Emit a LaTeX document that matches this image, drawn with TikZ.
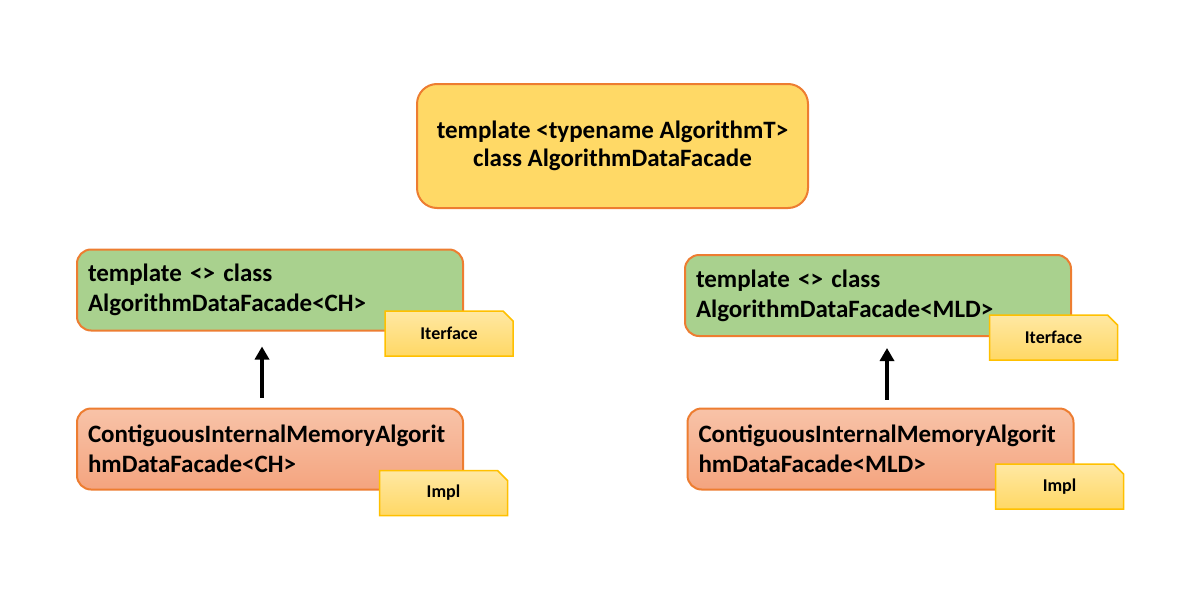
\documentclass[tikz,border=0pt]{standalone}
\usepackage{fontspec}
\setmainfont{Carlito}
\usetikzlibrary{shapes.misc,arrows.meta}
\definecolor{bord}{HTML}{ED7D31}
\definecolor{topfill}{HTML}{FFD966}
\definecolor{greenfill}{HTML}{A9D18E}
\definecolor{redtop}{HTML}{F8C3A8}
\definecolor{redbot}{HTML}{F4A47F}
\definecolor{tagtop}{HTML}{FFE8A3}
\definecolor{tagbot}{HTML}{FFD865}
\definecolor{tagbord}{HTML}{FFC000}
\tikzset{
  box/.style={draw=bord, line width=2pt, rounded corners=14pt, minimum width=386pt,
    minimum height=81pt, inner xsep=11pt, text width=364pt, align=left,
    font=\bfseries\fontsize{25}{30}\selectfont},
  topbox/.style={draw=bord, fill=topfill, line width=2pt, rounded corners=20pt,
    minimum width=391pt, minimum height=124pt, align=center,
    font=\bfseries\fontsize{25}{28}\selectfont},
  greenbox/.style={box, fill=greenfill},
  redbox/.style={box, top color=redtop, bottom color=redbot},
  tag/.style={chamfered rectangle, chamfered rectangle corners=north east,
    chamfered rectangle xsep=5pt, chamfered rectangle ysep=5pt,
    draw=tagbord, line width=1.5pt, top color=tagtop, bottom color=tagbot,
    minimum width=128pt, minimum height=45pt, inner sep=0pt,
    font=\bfseries\fontsize{18}{20}\selectfont},
  arr/.style={line width=4pt, -{Triangle[width=14pt,length=13pt]}}
}
\begin{document}
\begin{tikzpicture}[x=1pt,y=-1pt]
\useasboundingbox (0,0) rectangle (1197,597);
\node[topbox] (top) at (612.5,146) {template <typename AlgorithmT>\\class AlgorithmDataFacade};
\node[greenbox] (greenL) at (270,290) {template <> class\\AlgorithmDataFacade<CH>};
\node[redbox] (redL) at (270,449) {ContiguousInternalMemoryAlgorit\\hmDataFacade<CH>};
\node[greenbox] (greenR) at (878,295.5) {template <> class\\AlgorithmDataFacade<MLD>};
\node[redbox] (redR) at (880.5,449) {ContiguousInternalMemoryAlgorit\\hmDataFacade<MLD>};
\node[tag] (tagGL) at (449,333.5) {Iterface};
\node[tag] (tagRL) at (443.5,493) {Impl};
\node[tag] (tagGR) at (1053.5,337.5) {Iterface};
\node[tag] (tagRR) at (1059.5,486.5) {Impl};
\draw[arr, shorten <=10pt, shorten >=15pt] ([xshift=-8pt]redL.north) -- ([xshift=-8pt]redL.north |- greenL.south);
\draw[arr, shorten <=8pt, shorten >=11pt] ([xshift=6.5pt]redR.north) -- ([xshift=6.5pt]redR.north |- greenR.south);
\end{tikzpicture}
\end{document}
